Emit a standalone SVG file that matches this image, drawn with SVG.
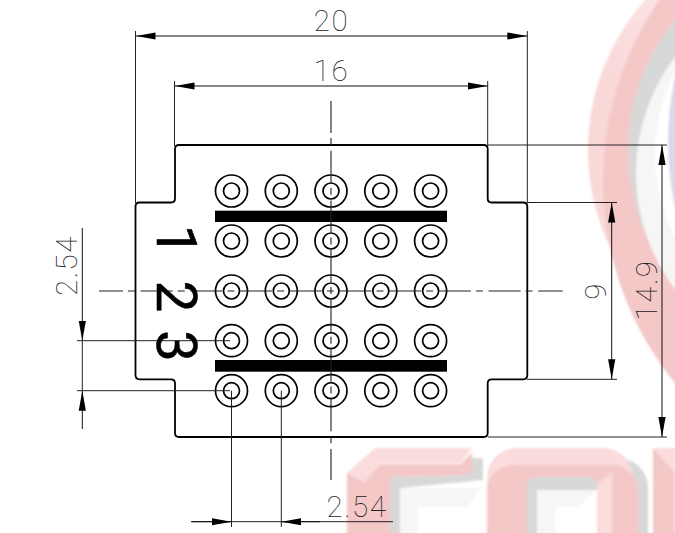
<svg xmlns="http://www.w3.org/2000/svg" width="675" height="533" viewBox="0 0 675 533">
<defs>
<style>
.o{fill:none;stroke:#000;stroke-width:1.8}
.d{fill:none;stroke:#111;stroke-width:1;marker-end:url(#a)}
.b{fill:none;stroke:#111;stroke-width:1;marker-start:url(#s);marker-end:url(#a)}
.e{fill:none;stroke:#222;stroke-width:1}
.c{fill:none;stroke:#222;stroke-width:1.1;stroke-dasharray:32 5 7 5.7}
.h{fill:none;stroke:#000;stroke-width:1.7}
.t{font-family:Roboto,"DejaVu Sans",sans-serif;font-weight:100;font-size:29.500px;letter-spacing:1.500px;fill:#222;text-anchor:middle}
.n{font-family:Roboto,"Liberation Sans",sans-serif;font-size:56px;fill:#000;stroke:#000;stroke-width:.6;text-anchor:middle}
.l{fill:#fadcdc}.p{fill:#f5c8c8}.g{fill:#d8d8d8}.w{fill:#f6f6f6}
</style>
<marker id="a" markerUnits="userSpaceOnUse" viewBox="0 0 20 8" markerWidth="20" markerHeight="8" refX="20" refY="4" orient="auto"><path d="M0,.4L20,4L0,7.6z" fill="#000"/></marker>
<marker id="s" markerUnits="userSpaceOnUse" viewBox="0 0 20 8" markerWidth="20" markerHeight="8" refX="0" refY="4" orient="auto"><path d="M20,.4L0,4L20,7.6z" fill="#000"/></marker>
<linearGradient id="lg" x1="0" y1="0" x2="0" y2="1"><stop offset="0" stop-color="#fdecec"/><stop offset=".35" stop-color="#f9d8d8"/><stop offset="1" stop-color="#f9d8d8"/></linearGradient>
<filter id="soft" x="-5%" y="-5%" width="110%" height="110%"><feGaussianBlur stdDeviation=".8"/></filter>
<g id="hole"><circle r="16" class="h"/><circle r="8" class="h"/></g>
</defs>
<rect width="675" height="533" fill="#fff"/>
<g id="watermark" filter="url(#soft)">
<circle cx="814" cy="150" r="226" fill="url(#lg)"/>
<circle cx="923" cy="181" r="320" class="p"/>
<circle cx="835" cy="151" r="207" class="g"/>
<circle cx="828" cy="173" r="192" class="w"/>
<circle cx="835" cy="155" r="180" fill="#fff"/>
<circle cx="975" cy="142" r="307" fill="#d9d8ea"/>
<path class="p" d="M347,473V540H364V482z"/>
<path class="l" d="M347,473L375,448H472L461,463H380L364,482z"/>
<path class="g" d="M390,477L467,475L472,458H483V480L400,488V540H390z"/>
<path class="p" d="M364,482L380,464H461L472,452V470L467,475L390,477V540H364z"/>
<path class="w" d="M400,488H480L468,507H418V540H400z"/>
<rect class="g" x="500" y="458" width="148" height="200" rx="30"/>
<rect class="l" x="487" y="448" width="146" height="200" rx="30"/>
<rect class="p" x="487" y="465" width="151" height="200" rx="26"/>
<rect class="g" x="527" y="477" width="70" height="70" rx="8"/>
<path class="l" d="M597,484L612,472V540H597z"/>
<path class="w" d="M537,490H597V540H537z"/>
<path fill="#fff" d="M555,507H578L597,490V540H555z"/>
<path class="p" d="M653,448L675,472V540H653z"/>
<path class="l" d="M653,448H675V472z"/>
</g>
<g id="board">
<path class="o" d="M179,145H483.700Q487.700,145 487.700,149V198.500Q487.700,202.500 491.700,202.500H523.300Q527.300,202.500 527.300,206.500V375.300Q527.300,379.300 523.300,379.300H491.700Q487.700,379.300 487.700,383.300V433Q487.700,437 483.700,437H179Q175,437 175,433V383.300Q175,379.300 171,379.300H139.500Q135.500,379.300 135.500,375.300V206.500Q135.500,202.500 139.500,202.500H171Q175,202.500 175,198.500V149Q175,145 179,145z"/>
<rect x="215" y="210.700" width="232" height="11.300" fill="#000"/>
<rect x="215" y="360" width="232" height="11.700" fill="#000"/>
</g>
<g id="holes">
<use href="#hole" x="231.500" y="191"/><use href="#hole" x="281.300" y="191"/><use href="#hole" x="331" y="191"/><use href="#hole" x="380.800" y="191"/><use href="#hole" x="430.600" y="191"/>
<use href="#hole" x="231.500" y="241"/><use href="#hole" x="281.300" y="241"/><use href="#hole" x="331" y="241"/><use href="#hole" x="380.800" y="241"/><use href="#hole" x="430.600" y="241"/>
<use href="#hole" x="231.500" y="291"/><use href="#hole" x="281.300" y="291"/><use href="#hole" x="331" y="291"/><use href="#hole" x="380.800" y="291"/><use href="#hole" x="430.600" y="291"/>
<use href="#hole" x="231.500" y="340.700"/><use href="#hole" x="281.300" y="340.700"/><use href="#hole" x="331" y="340.700"/><use href="#hole" x="380.800" y="340.700"/><use href="#hole" x="430.600" y="340.700"/>
<use href="#hole" x="231.500" y="390.700"/><use href="#hole" x="281.300" y="390.700"/><use href="#hole" x="331" y="390.700"/><use href="#hole" x="380.800" y="390.700"/><use href="#hole" x="430.600" y="390.700"/>
</g>
<g id="connectors">
<path class="c" d="M331,101V480"/>
<path class="c" stroke-dashoffset="8" d="M99,291H562.700"/>
<path class="e" d="M135.500,31V203M527.300,31V203M174.500,81V146M487.700,81V146M488,145H667M527,202.500H617M527,379.300H617M488,437H667M77,340.700H230M77,390.700H230M231.500,390.700V527M281.300,390.700V527"/>
<path class="e" d="M82.300,340V391M192,521.700H393"/>
<path class="b" d="M135.500,36H527.300"/>
<path class="b" d="M174.500,86H487.700"/>
<path class="b" d="M662,145V437"/>
<path class="b" d="M611.700,202.500V379.300"/>
<path class="d" d="M82.300,228V340.700"/>
<path class="d" d="M82.300,429V390.700"/>
<path class="d" d="M191,521.700H231.500"/>
<path class="d" d="M320,521.700H281.300"/>
</g>
<g id="labels">
<text class="t" x="331.500" y="31">20</text>
<text class="t" x="331.500" y="81">16</text>
<text class="t" x="357" y="517">2.54</text>
<text class="t" transform="translate(77,265.500) rotate(-90)">2.54</text>
<text class="t" transform="translate(657,290) rotate(-90)">14.9</text>
<text class="t" transform="translate(606,291) rotate(-90)">9</text>
<text class="n" transform="translate(157,240.500) rotate(90)">1</text>
<text class="n" transform="translate(157,296.500) rotate(90)">2</text>
<text class="n" transform="translate(157,346) rotate(90)">3</text>
</g>
</svg>
